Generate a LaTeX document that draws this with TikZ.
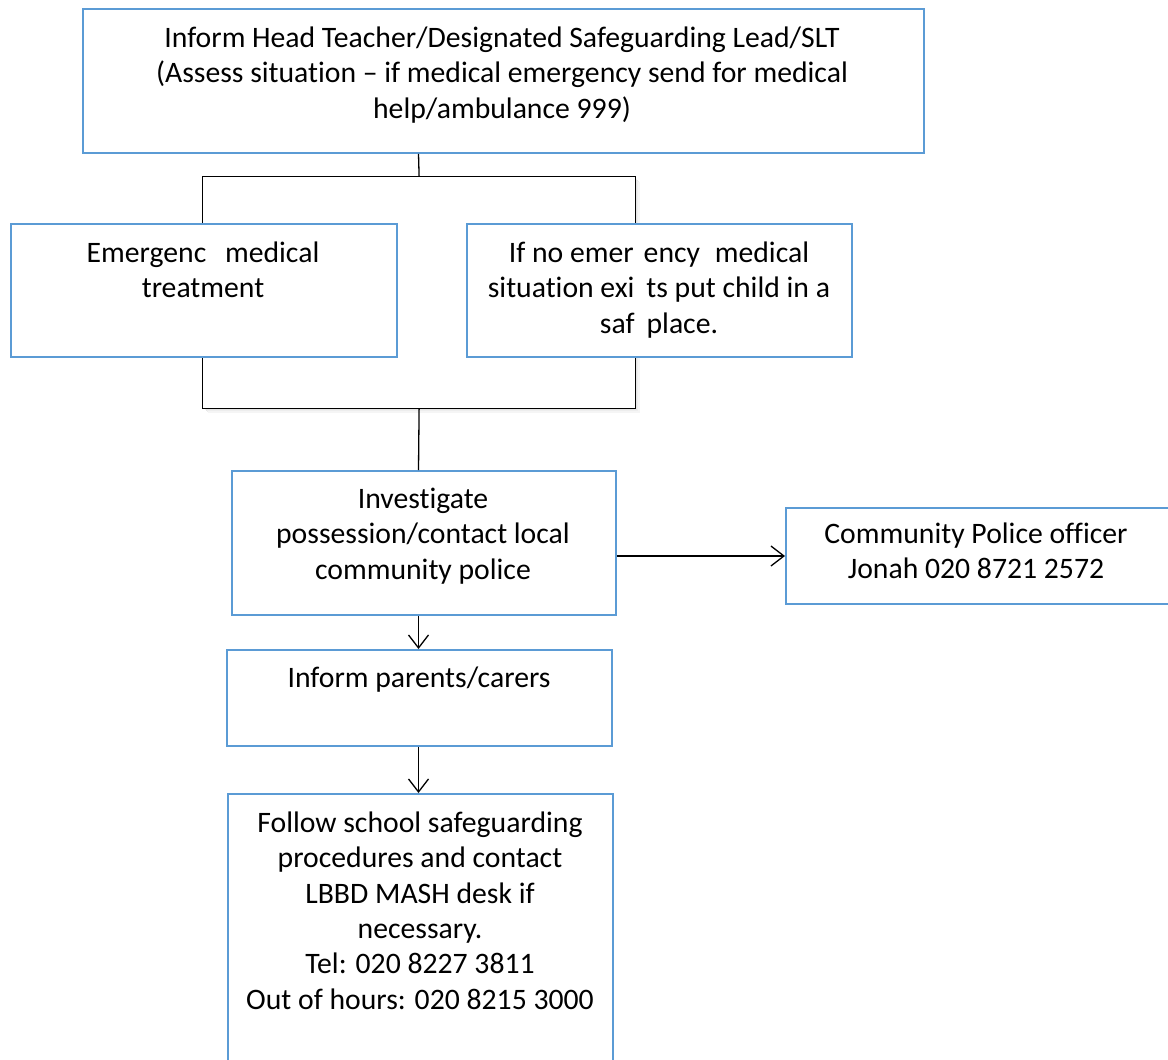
\documentclass[tikz,border=0pt]{standalone}
\usepackage{fontspec}
\setmainfont[Ligatures=NoCommon]{Carlito}
\usetikzlibrary{arrows.meta}
\definecolor{boxblue}{RGB}{91,155,213}
\tikzset{
  box/.style={draw=boxblue, line width=1.8pt, fill=white, rectangle, inner sep=0pt, anchor=north west},
  txt/.style={anchor=north, align=center, inner sep=0pt, font=\fontsize{29.7}{35.4}\selectfont},
  conn/.style={draw=black, line width=1.3pt},
  arr/.style={conn, -{Straight Barb[length=13pt, width=20pt, line width=1.3pt]}},
}
\newcommand{\fl}{\rule{0pt}{22pt}}
\begin{document}
\begin{tikzpicture}[x=1pt, y=-1pt]
\useasboundingbox (0,0) rectangle (1168,1060);
% bracket with soft shadow
\foreach \i/\g in {1/94,2/90,3/93,4/96}{
  \draw[line width=1.3pt, black!\the\numexpr100-\g\relax]
    (204+\i,408+\i) -- (635+\i,408+\i) -- (635+\i,178+\i);
}
\node[draw=black, line width=1.2pt, rectangle, inner sep=0pt, anchor=north west,
      minimum width=433pt, minimum height=232pt] (bracket) at (202,176) {};
% boxes
\node[box, minimum width=841pt, minimum height=144pt] (top) at (82,8) {};
\node[box, minimum width=386pt, minimum height=133pt] (left) at (10,223) {};
\node[box, minimum width=385pt, minimum height=133pt] (right) at (466,223) {};
\node[box, minimum width=384pt, minimum height=144pt] (inv) at (231,470) {};
\node[box, minimum width=420pt, minimum height=96pt] (comm) at (785,507) {};
\node[box, minimum width=385pt, minimum height=96pt] (par) at (226,649) {};
\node[box, minimum width=385pt, minimum height=290pt] (fin) at (227,793) {};
% texts
\node[txt] (ttop) at (502,25) {\fl Inform Head Teacher/Designated Safeguarding Lead/SLT\\(Assess situation – if medical emergency send for medical\\help/ambulance 999)};
\node[txt] (tleft) at (203,240) {\fl Emergenc\hspace{12pt} medical\\treatment};
\node[txt] (tright) at (659,240) {\fl If no emer\hspace{10pt}ency\hspace{8pt} medical\\situation exi\hspace{12pt}ts put child in a\\saf\hspace{12pt}place.};
\node[txt] (tinv) at (423,486) {\fl Investigate\\possession/contact local\\community police};
\node[txt] (tcomm) at (976,521) {\fl Community Police officer\\Jonah 020 8721 2572};
\node[txt] (tpar) at (419,665) {\fl Inform parents/carers};
\node[txt] (tfin) at (420,810) {\fl Follow school safeguarding\\procedures and contact\\LBBD MASH desk if\\necessary.\\Tel: 020 8227 3811\\Out of hours: 020 8215 3000};
% connectors
\coordinate (vx) at (418.5,0);
\draw[conn] (vx |- top.south) -- (bracket.north);
\draw[conn] (bracket.south) -- (vx |- inv.north);
\draw[arr] (vx |- inv.south) -- (vx |- par.north);
\draw[arr] (vx |- par.south) -- (vx |- fin.north);
\draw[arr] (inv.east |- 0,556) -- (comm.west |- 0,556);
\end{tikzpicture}
\end{document}
